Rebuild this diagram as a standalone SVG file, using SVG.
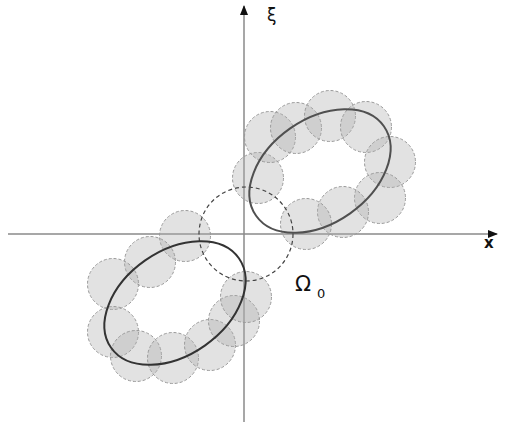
<svg xmlns="http://www.w3.org/2000/svg" width="509" height="426" viewBox="0 0 509 426">
<style>
.ax{stroke:#8a8a8a;stroke-width:1.5;fill:none}
.c{fill:#b0b0b0;fill-opacity:0.36;stroke:#999;stroke-width:1;stroke-dasharray:3 2}
.el{fill:none;stroke-width:2}
.t{font-family:"DejaVu Sans",sans-serif;fill:#111}
</style>
<defs>
<marker id="ah" markerWidth="10" markerHeight="10" refX="9" refY="5" orient="auto" markerUnits="userSpaceOnUse">
<path d="M0,1 L10,5 L0,9 Z" fill="#111"/>
</marker>
</defs>
<rect width="509" height="426" fill="#fff"/>
<g id="axes">
<line class="ax" x1="8" y1="234" x2="497" y2="234" marker-end="url(#ah)"/>
<line class="ax" x1="244" y1="422" x2="244" y2="6" marker-end="url(#ah)"/>
</g>
<g id="upper-cluster">
<circle class="c" cx="258" cy="178" r="25.5"/>
<circle class="c" cx="270" cy="137" r="25.5"/>
<circle class="c" cx="296" cy="128" r="25.5"/>
<circle class="c" cx="330" cy="116" r="25.5"/>
<circle class="c" cx="366" cy="127" r="25.5"/>
<circle class="c" cx="390" cy="162" r="25.5"/>
<circle class="c" cx="380" cy="198" r="25.5"/>
<circle class="c" cx="343" cy="212" r="25.5"/>
<circle class="c" cx="306" cy="224" r="25.5"/>
</g>
<g id="lower-cluster">
<circle class="c" cx="185" cy="236" r="25.5"/>
<circle class="c" cx="150" cy="262" r="25.5"/>
<circle class="c" cx="113" cy="284" r="25.5"/>
<circle class="c" cx="113" cy="332" r="25.5"/>
<circle class="c" cx="136" cy="356" r="25.5"/>
<circle class="c" cx="173" cy="358" r="25.5"/>
<circle class="c" cx="210" cy="345" r="25.5"/>
<circle class="c" cx="234" cy="321" r="25.5"/>
<circle class="c" cx="246" cy="297" r="25.5"/>
</g>
<g id="omega0">
<circle cx="246" cy="234" r="47" fill="none" stroke="#444" stroke-width="1.2" stroke-dasharray="4 3"/>
</g>
<g id="upper-ellipse">
<ellipse class="el" cx="320" cy="171" rx="78" ry="52" transform="rotate(-35 320 171)" stroke="#505050"/>
</g>
<g id="lower-ellipse">
<ellipse class="el" cx="175" cy="303" rx="78" ry="52" transform="rotate(-35 175 303)" stroke="#333"/>
</g>
<g id="labels">
<text class="t" x="267" y="21" font-size="17">ξ</text>
<text class="t" x="484" y="248" font-size="15" font-weight="bold">x</text>
<text class="t" x="295" y="291" font-size="21">Ω</text>
<text class="t" x="317" y="298" font-size="13">0</text>
</g>
</svg>
